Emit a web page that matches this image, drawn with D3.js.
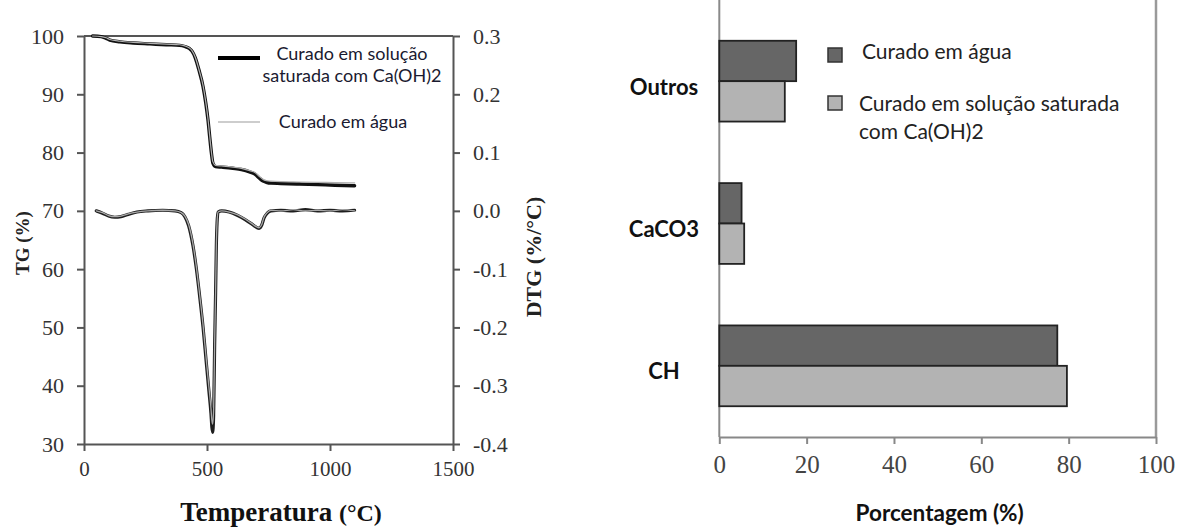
<!DOCTYPE html>
<html>
<head>
<meta charset="utf-8">
<script src="https://cdn.jsdelivr.net/npm/d3@7"></script>
<style>
  body { margin: 0; background: #fff; }
  svg { display: block; }
</style>
</head>
<body>
<svg id="chart" width="1184" height="530"></svg>
<script>
// ---- Thermogravimetric curves (TG in %, DTG in %/°C) ----
const tgTemps     = [35, 70, 90, 105, 146, 200, 268, 335, 389, 410, 430, 439, 452, 467, 484, 495, 504, 511, 518, 524, 535, 560, 605, 640, 673, 695, 713, 728, 741, 760, 800, 876, 950, 1020, 1100];
const tgSaturada  = [100, 99.9, 99.6, 99.3, 99.0, 98.8, 98.65, 98.5, 98.4, 98.2, 97.8, 97.4, 96.3, 94.2, 91.3, 88.5, 85.6, 82.7, 79.9, 78.2, 77.6, 77.5, 77.3, 77.1, 76.7, 76.3, 75.6, 75.1, 74.9, 74.75, 74.7, 74.6, 74.5, 74.4, 74.3];
const tgAgua      = [100, 99.9, 99.7, 99.4, 99.1, 98.9, 98.75, 98.6, 98.5, 98.3, 97.9, 97.5, 96.4, 94.3, 91.5, 88.7, 85.8, 82.9, 80.1, 78.4, 77.8, 77.7, 77.5, 77.3, 76.9, 76.6, 75.9, 75.4, 75.2, 75.1, 75.0, 74.95, 74.9, 74.85, 74.8];

const dtgTemps    = [50, 75, 100, 125, 150, 180, 215, 260, 320, 370, 395, 410, 425, 443, 457, 470, 484, 497, 508, 516, 520, 523, 527, 531, 535, 538, 541, 545, 560, 590, 625, 655, 680, 700, 712, 722, 732, 745, 760, 800, 850, 900, 950, 1000, 1050, 1100];
const dtgSaturada = [0.0, -0.004, -0.009, -0.011, -0.010, -0.006, -0.002, 0.0, 0.001, 0.0, -0.003, -0.010, -0.025, -0.060, -0.100, -0.146, -0.200, -0.260, -0.310, -0.347, -0.372, -0.380, -0.350, -0.232, -0.140, -0.060, -0.020, -0.002, 0.0, -0.002, -0.008, -0.015, -0.022, -0.028, -0.030, -0.025, -0.012, -0.004, 0.0, 0.001, 0.0, 0.002, 0.0, 0.001, 0.0, 0.001];
const dtgAgua     = [0.0, -0.003, -0.008, -0.010, -0.009, -0.005, -0.002, 0.0, 0.001, 0.0, -0.003, -0.009, -0.023, -0.057, -0.097, -0.143, -0.196, -0.255, -0.303, -0.338, -0.360, -0.366, -0.340, -0.228, -0.138, -0.058, -0.019, -0.002, 0.0, -0.002, -0.007, -0.014, -0.021, -0.027, -0.029, -0.024, -0.011, -0.003, 0.001, 0.0, 0.002, 0.0, 0.001, 0.0, 0.002, 0.0];

const tempTicks = [0, 500, 1000, 1500];
const tgTicks   = [30, 40, 50, 60, 70, 80, 90, 100];
const dtgTicks  = [-0.4, -0.3, -0.2, -0.1, 0.0, 0.1, 0.2, 0.3];
const tgLegend  = ["Curado em solução", "saturada com Ca(OH)2", "Curado em água"];

// ---- Phase composition (%) ----
const fases         = ["Outros", "CaCO3", "CH"];
const faseAgua      = [17.6, 5.1, 77.4];
const faseSaturada  = [15.0, 5.7, 79.6];
const pctTicks      = [0, 20, 40, 60, 80, 100];
const barLegend     = ["Curado em água", "Curado em solução saturada", "com Ca(OH)2"];

const svg = d3.select("#chart");
const serif = "'Liberation Serif', 'Times New Roman', serif";
const sans  = "Lato, 'Open Sans', sans-serif";

// ================= Left panel: TG / DTG =================
const L = { left: 84, right: 453, top: 36, bottom: 444 };
const xT   = d3.scaleLinear().domain([0, 1500]).range([L.left, L.right]);
const yTG  = d3.scaleLinear().domain([30, 100]).range([L.bottom, L.top]);
const yDTG = d3.scaleLinear().domain([-0.4, 0.3]).range([L.bottom, L.top]);

const axisColor = "#555";
function styleAxis(g, fontSize, family, color) {
  g.selectAll(".domain").attr("stroke", axisColor).attr("stroke-width", 2);
  g.selectAll(".tick line").attr("stroke", axisColor).attr("stroke-width", 2);
  g.selectAll(".tick text").attr("font-family", family).attr("font-size", fontSize).attr("fill", color);
}

// top frame line
svg.append("line")
  .attr("x1", L.left).attr("x2", L.right).attr("y1", L.top).attr("y2", L.top)
  .attr("stroke", axisColor).attr("stroke-width", 2);

svg.append("g").attr("transform", `translate(0,${L.bottom})`)
  .call(d3.axisBottom(xT).tickValues(tempTicks).tickFormat(d3.format("d")).tickSize(7).tickPadding(10).tickSizeOuter(0))
  .call(g => styleAxis(g, 21, serif, "#333"));

svg.append("g").attr("transform", `translate(${L.left},0)`)
  .call(d3.axisLeft(yTG).tickValues(tgTicks).tickFormat(d3.format("d")).tickSize(7).tickPadding(13).tickSizeOuter(0))
  .call(g => styleAxis(g, 22, serif, "#333"));

svg.append("g").attr("transform", `translate(${L.right},0)`)
  .call(d3.axisRight(yDTG).tickValues(dtgTicks).tickFormat(d3.format(".1f")).tickSize(7).tickPadding(13).tickSizeOuter(0))
  .call(g => styleAxis(g, 22, serif, "#333"))
  .call(g => g.selectAll(".tick text").text(d => d3.format(".1f")(d).replace("−", "-")));

const tgLine  = d3.line().x((d, i) => xT(tgTemps[i])).y(d => yTG(d)).curve(d3.curveMonotoneX);
const dtgLine = d3.line().x((d, i) => xT(dtgTemps[i])).y(d => yDTG(d)).curve(d3.curveMonotoneX);

const curves = svg.append("g").attr("fill", "none").attr("stroke-linejoin", "round").attr("stroke-linecap", "round");
curves.append("path").attr("d", dtgLine(dtgSaturada)).attr("stroke", "#1e1e1e").attr("stroke-width", 3.2);
curves.append("path").attr("d", tgLine(tgSaturada)).attr("stroke", "#111").attr("stroke-width", 3.4);
curves.append("path").attr("d", dtgLine(dtgAgua)).attr("stroke", "#a8a8a8").attr("stroke-width", 1.3);
curves.append("path").attr("d", tgLine(tgAgua)).attr("stroke", "#b0b0b0").attr("stroke-width", 1.2);

// legend
const lg = svg.append("g").attr("font-family", sans).attr("font-size", 18).attr("fill", "#1a1a30");
lg.append("line").attr("x1", 218).attr("x2", 260).attr("y1", 58).attr("y2", 58).attr("stroke", "#000").attr("stroke-width", 4);
lg.append("text").attr("x", 352).attr("y", 53).attr("text-anchor", "middle").attr("dominant-baseline", "central").text(tgLegend[0]);
lg.append("text").attr("x", 352).attr("y", 75).attr("text-anchor", "middle").attr("dominant-baseline", "central").text(tgLegend[1]);
lg.append("line").attr("x1", 218).attr("x2", 260).attr("y1", 122).attr("y2", 122).attr("stroke", "#bdbdbd").attr("stroke-width", 1.6);
lg.append("text").attr("x", 343).attr("y", 121).attr("text-anchor", "middle").attr("dominant-baseline", "central").text(tgLegend[2]);

// axis titles
svg.append("text")
  .attr("transform", "translate(29,243) rotate(-90)")
  .attr("text-anchor", "middle")
  .attr("font-family", serif).attr("font-weight", "bold").attr("font-size", 19).attr("fill", "#222")
  .text("TG (%)");
svg.append("text")
  .attr("transform", "translate(541,257) rotate(-90)")
  .attr("text-anchor", "middle")
  .attr("font-family", serif).attr("font-weight", "bold").attr("font-size", 22).attr("fill", "#222")
  .text("DTG (%/°C)");
const xt = svg.append("text")
  .attr("x", 281).attr("y", 521)
  .attr("text-anchor", "middle")
  .attr("font-family", serif).attr("font-weight", "bold").attr("fill", "#111");
xt.append("tspan").attr("font-size", 27).text("Temperatura ");
xt.append("tspan").attr("font-size", 24).text("(°C)");

// ================= Right panel: phase composition =================
const R = { left: 719.3, right: 1156, top: 10, bottom: 437 };
const xP = d3.scaleLinear().domain([0, 100]).range([R.left, R.right]);
const yF = d3.scaleBand().domain(fases).range([R.top, R.bottom]).paddingInner(0).paddingOuter(0);
const barH = 40.4;
const darkFill = "#666666", lightFill = "#b3b3b3", barStroke = "#222";

// frame lines
svg.append("line").attr("x1", R.left).attr("x2", R.left).attr("y1", 0).attr("y2", R.bottom)
  .attr("stroke", "#8a8a8a").attr("stroke-width", 2);
svg.append("line").attr("x1", R.right).attr("x2", R.right).attr("y1", 0).attr("y2", R.bottom)
  .attr("stroke", "#9a9a9a").attr("stroke-width", 2.5);

svg.append("g").attr("transform", `translate(0,${R.bottom})`)
  .call(d3.axisBottom(xP).tickValues(pctTicks).tickSize(7).tickPadding(11).tickSizeOuter(0))
  .call(g => {
    g.selectAll(".domain").attr("stroke", "#888").attr("stroke-width", 2);
    g.selectAll(".tick line").attr("stroke", "#888").attr("stroke-width", 2);
    g.selectAll(".tick text").attr("font-family", serif).attr("font-size", 25).attr("fill", "#444");
  });

const bars = svg.append("g").attr("stroke", barStroke).attr("stroke-width", 1.8);
bars.selectAll("rect.agua").data(faseAgua).join("rect").attr("class", "agua")
  .attr("x", xP(0)).attr("y", (d, i) => yF(fases[i]) + yF.bandwidth() / 2 - barH)
  .attr("width", d => xP(d) - xP(0)).attr("height", barH).attr("fill", darkFill);
bars.selectAll("rect.sat").data(faseSaturada).join("rect").attr("class", "sat")
  .attr("x", xP(0)).attr("y", (d, i) => yF(fases[i]) + yF.bandwidth() / 2)
  .attr("width", d => xP(d) - xP(0)).attr("height", barH).attr("fill", lightFill);

// category labels
svg.append("g").selectAll("text").data(fases).join("text")
  .attr("x", 664).attr("y", d => yF(d) + yF.bandwidth() / 2 + 5)
  .attr("text-anchor", "middle").attr("dominant-baseline", "central")
  .attr("font-family", sans).attr("font-weight", "bold").attr("font-size", 22).attr("fill", "#111")
  .text(d => d);

// legend
const bl = svg.append("g").attr("font-family", sans).attr("font-size", 21).attr("fill", "#222");
bl.append("rect").attr("x", 828).attr("y", 48).attr("width", 14).attr("height", 14).attr("fill", darkFill).attr("stroke", "#333").attr("stroke-width", 1.5);
bl.append("rect").attr("x", 828).attr("y", 96).attr("width", 14).attr("height", 14).attr("fill", lightFill).attr("stroke", "#333").attr("stroke-width", 1.5);
bl.append("text").attr("x", 862).attr("y", 50).attr("dominant-baseline", "central").text(barLegend[0]);
bl.append("text").attr("x", 859).attr("y", 102).attr("dominant-baseline", "central").text(barLegend[1]);
bl.append("text").attr("x", 859).attr("y", 130).attr("dominant-baseline", "central").text(barLegend[2]);

svg.append("text")
  .attr("x", (R.left + R.right) / 2 + 2).attr("y", 512)
  .attr("text-anchor", "middle").attr("dominant-baseline", "central")
  .attr("font-family", sans).attr("font-weight", "bold").attr("font-size", 22.5).attr("fill", "#111")
  .text("Porcentagem (%)");
</script>
</body>
</html>
